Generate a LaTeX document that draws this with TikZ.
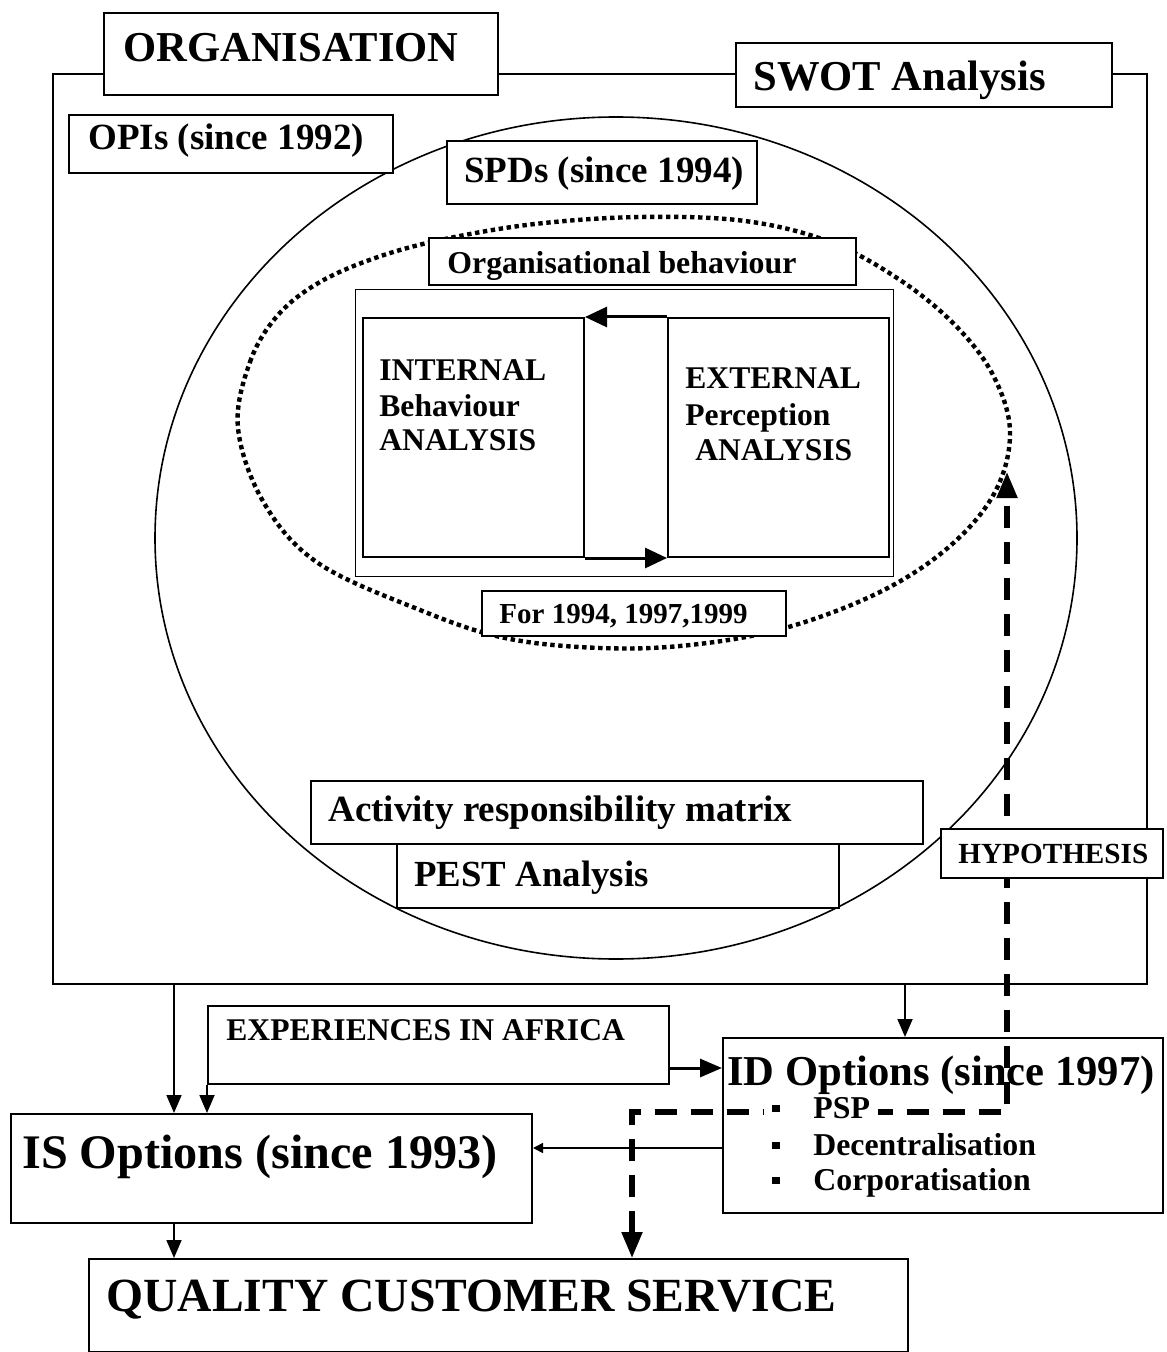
\documentclass[tikz,border=0pt]{standalone}
\usepackage{fontspec}
\setmainfont{Liberation Serif}
\usetikzlibrary{arrows.meta,calc}
\newcommand\sqbullet{\makebox[20.5pt][l]{\raisebox{3pt}{\rule{3.6pt}{3.6pt}}}}
\begin{document}
\begin{tikzpicture}[x=0.5pt,y=-0.5pt,
  box/.style={draw, fill=white, line width=1pt, inner sep=0pt, anchor=north west},
  thinbox/.style={box, line width=0.6pt},
  txt/.style={anchor=base west, inner sep=0pt, font=\bfseries\fontsize{#1}{#1}\selectfont},
  item/.style={txt=15.9, fill=white, inner xsep=4pt, inner ysep=1pt},
  arr/.style={line width=0.9pt, -{Triangle[length=9pt,width=7.5pt]}},
  bigarr/.style={line width=1.5pt, -{Triangle[length=11pt,width=9pt]}},
  smallarr/.style={line width=0.8pt, -{Triangle[length=5pt,width=5pt]}},
  hyparr/.style={line width=2.6pt, dash pattern=on 11pt off 7pt,
     {Triangle[length=13pt,width=10pt]}-{Triangle[length=13pt,width=10pt]}},
  dots/.style={line width=2.2pt, dash pattern=on 2.2pt off 1.8pt}]
\useasboundingbox (0,0) rectangle (1166,1352);

% outer frame of the organisation
\node[draw, line width=1pt, inner sep=0pt, anchor=north west,
      minimum width=547pt, minimum height=455pt] (frame) at (52,73) {};

% large circle and the dotted loop inside it
\draw[line width=0.8pt] (616,538) ellipse [x radius=461, y radius=421];
\draw[dots] plot[smooth cycle, tension=0.6] coordinates {
  (238,428) (250,362) (278,315) (320,282) (378,257) (445,239) (535,224)
  (640,217) (745,221) (830,242) (900,280) (955,325) (993,375) (1010,432)
  (995,492) (950,546) (880,592) (785,628) (690,645) (600,648) (505,638)
  (420,610) (318,563) (264,503)};

% title boxes on the frame
\node[box, minimum width=197pt, minimum height=41pt] (org) at (103,12) {};
\node[txt=21.3] (orgt) at (123,62) {ORGANISATION};
\node[box, minimum width=188pt, minimum height=32pt] (swot) at (735,42) {};
\node[txt=21.3] (swott) at (753,91) {SWOT Analysis};

\node[box, minimum width=162pt, minimum height=29pt] (opis) at (68,114) {};
\node[txt=18.5] (opist) at (88,150) {OPIs (since 1992)};
\node[box, minimum width=155pt, minimum height=31.5pt] (spds) at (446,140) {};
\node[txt=18.5] (spdst) at (464,183) {SPDs (since 1994)};

% organisational behaviour block
\node[box, minimum width=213.5pt, minimum height=23.5pt] (beh) at (428,237) {};
\node[txt=15.9] (beht) at (447,274) {Organisational behaviour};
\node[thinbox, minimum width=269pt, minimum height=143.5pt] (inner) at (355,289) {};
\node[box, minimum width=110.5pt, minimum height=119.5pt] (int) at (362,317) {};
\node[box, minimum width=110.5pt, minimum height=119.5pt] (ext) at (667,317) {};
\node[txt=15.8] (intt1) at (379,381) {INTERNAL};
\node[txt=15.8] (intt2) at (379,416) {Behaviour};
\node[txt=15.8] (intt3) at (379,451) {ANALYSIS};
\node[txt=15.8] (extt1) at (685,389) {EXTERNAL};
\node[txt=15.8] (extt2) at (685,425) {Perception};
\node[txt=15.8] (extt3) at (695,460) {ANALYSIS};
\draw[line width=1.5pt, -{Triangle[length=11pt,width=10pt]}] (ext.north west) -- (int.north east);
\draw[line width=1.5pt, -{Triangle[length=11pt,width=10pt]}] (int.south east) -- (ext.south west);

\node[box, minimum width=152pt, minimum height=22.5pt] (years) at (481,590) {};
\node[txt=14.5] (yearst) at (499,623) {For 1994, 1997,1999};

% analysis tools
\node[box, minimum width=306pt, minimum height=31.5pt] (act) at (310,780) {};
\node[txt=18.5] (actt) at (328,821) {Activity responsibility matrix};
\node[box, minimum width=221pt, minimum height=32pt] (pest) at (396,843) {};
\node[txt=18.4] (pestt) at (414,886) {PEST Analysis};

% lower part
\node[box, minimum width=230.5pt, minimum height=39pt] (exp) at (207,1005) {};
\node[txt=15.8] (expt) at (226,1040) {EXPERIENCES IN AFRICA};

\node[box, minimum width=220pt, minimum height=87.5pt] (idbox) at (722,1037) {};
\node[txt=21.3] (idt) at (727,1085) {ID Options (since 1997)};

\node[box, minimum width=260.5pt, minimum height=54.5pt] (isbox) at (10,1113) {};
\node[txt=24.1] (ist) at (22,1168) {IS Options (since 1993)};

\node[box, minimum width=409.5pt, minimum height=46.5pt] (qual) at (88,1258) {};
\node[txt=23.8] (qualt) at (106,1311) {QUALITY CUSTOMER SERVICE};

% connectors
\coordinate (xa) at (174,0);
\coordinate (xb) at (905,0);
\coordinate (xd) at (632,0);
\coordinate (ya) at (0,1068);
\coordinate (yb) at (0,1148);
\draw[arr] (frame.south -| xa) -- (isbox.north -| xa);
\draw[arr] (exp.south west) -- (isbox.north -| exp.south west);
\draw[bigarr] (exp.east |- ya) -- (idbox.west |- ya);
\draw[arr] (frame.south -| xb) -- (idbox.north -| xb);
\draw[smallarr] (idbox.west |- yb) -- (isbox.east |- yb);
\draw[arr] (isbox.south -| xa) -- (qual.north -| xa);

% hypothesis path
\coordinate (hc) at (1007,1112);
\coordinate (htip) at (1007,472);
\draw[hyparr] (qual.north -| xd) -- (hc -| xd) -- (hc) -- (htip);
\node[box, minimum width=111pt, minimum height=24.5pt] (hyp) at (940,828) {};
\node[txt=14.6] (hypt) at (958,863) {HYPOTHESIS};

% ID option items
\node[item] (psp) at (764,1118) {\sqbullet PSP};
\node[item] (dec) at (764,1155) {\sqbullet Decentralisation};
\node[item] (cor) at (764,1190) {\sqbullet Corporatisation};
\end{tikzpicture}
\end{document}
